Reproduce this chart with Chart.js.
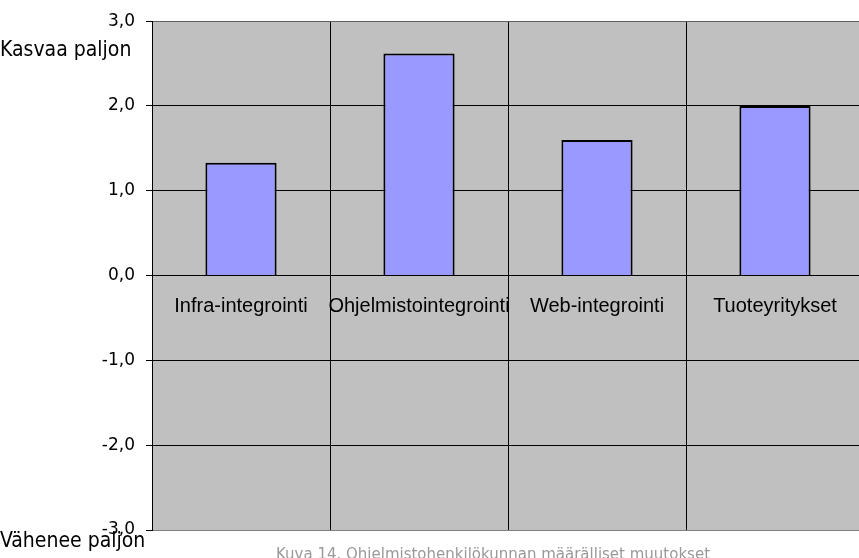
<!DOCTYPE html>
<html>
<head>
<meta charset="utf-8">
<script src="https://cdn.jsdelivr.net/npm/chart.js@4"></script>
<style>
  html, body { margin: 0; padding: 0; background: #fff; overflow: hidden; }
  #wrap { position: relative; width: 864px; height: 558px; }
</style>
</head>
<body>
<div id="wrap"><canvas id="chart"></canvas></div>
<script>
// data
const categories = ['Infra-integrointi', 'Ohjelmistointegrointi', 'Web-integrointi', 'Tuoteyritykset'];
const values = [1.33, 2.62, 1.6, 2.0];
const yTicks = [-3, -2, -1, 0, 1, 2, 3];
const topNote = 'Kasvaa paljon';
const bottomNote = 'Vähenee paljon';
const caption = 'Kuva 14. Ohjelmistohenkilökunnan määrälliset muutokset';

const noteFont = '21px "DejaVu Sans Condensed", "DejaVu Sans", sans-serif';

// gray plot background
const plotBackground = {
    id: 'plotBackground',
    beforeDraw(chart) {
        const { ctx, chartArea } = chart;
        ctx.save();
        ctx.fillStyle = '#C0C0C0';
        ctx.fillRect(chartArea.left, chartArea.top, chartArea.right - chartArea.left, chartArea.bottom - chartArea.top);
        ctx.restore();
    }
};

// category names sit just under the zero line, plus the side notes and caption
const extraText = {
    id: 'extraText',
    afterDraw(chart) {
        const ctx = chart.ctx;
        const xs = chart.scales.x;
        const ys = chart.scales.y;
        const zeroY = ys.getPixelForValue(0);
        ctx.save();
        ctx.fillStyle = '#000';
        ctx.textBaseline = 'alphabetic';
        ctx.textAlign = 'center';
        ctx.font = '20px "Liberation Sans", Arial, sans-serif';
        categories.forEach((c, i) => {
            ctx.fillText(c, xs.getPixelForValue(i), zeroY + 36);
        });

        ctx.textAlign = 'left';
        ctx.font = noteFont;
        ctx.fillText(topNote, 0, 56);
        ctx.fillText(bottomNote, 0, 547);

        ctx.textAlign = 'center';
        ctx.fillStyle = '#999';
        ctx.font = '15px "DejaVu Sans", sans-serif';
        ctx.fillText(caption, 493, 559);
        ctx.restore();
    }
};

const ctx = document.getElementById('chart').getContext('2d');
new Chart(ctx, {
    type: 'bar',
    data: {
        labels: categories,
        datasets: [{
            data: values,
            backgroundColor: '#9999FF',
            borderColor: '#000',
            borderWidth: 2,
            categoryPercentage: 1,
            barPercentage: 0.4
        }]
    },
    options: {
        responsive: true,
        maintainAspectRatio: false,
        animation: false,
        layout: { padding: { top: 20, bottom: 28, left: 0, right: 0 } },
        plugins: {
            legend: { display: false },
            tooltip: { enabled: false }
        },
        scales: {
            x: {
                ticks: { display: false },
                grid: { color: '#000', lineWidth: 1, drawTicks: false, offset: true },
                border: { display: true, color: '#808080' }
            },
            y: {
                min: -3,
                max: 3,
                afterBuildTicks: (scale) => {
                    scale.ticks = yTicks.map(v => ({ value: v }));
                },
                afterFit: (scale) => { scale.width = 152; },
                ticks: {
                    color: '#000',
                    padding: 11,
                    font: { family: '"DejaVu Sans", sans-serif', size: 17 },
                    callback: (v) => Number(v).toFixed(1).replace('.', ',')
                },
                grid: {
                    color: (c) => (c.tick && (c.tick.value === 3 || c.tick.value === -3)) ? '#606060' : '#000',
                    lineWidth: 1,
                    tickLength: 6,
                    tickColor: '#000'
                },
                border: { display: true, color: '#000' }
            }
        }
    },
    plugins: [plotBackground, extraText]
});
</script>
</body>
</html>
